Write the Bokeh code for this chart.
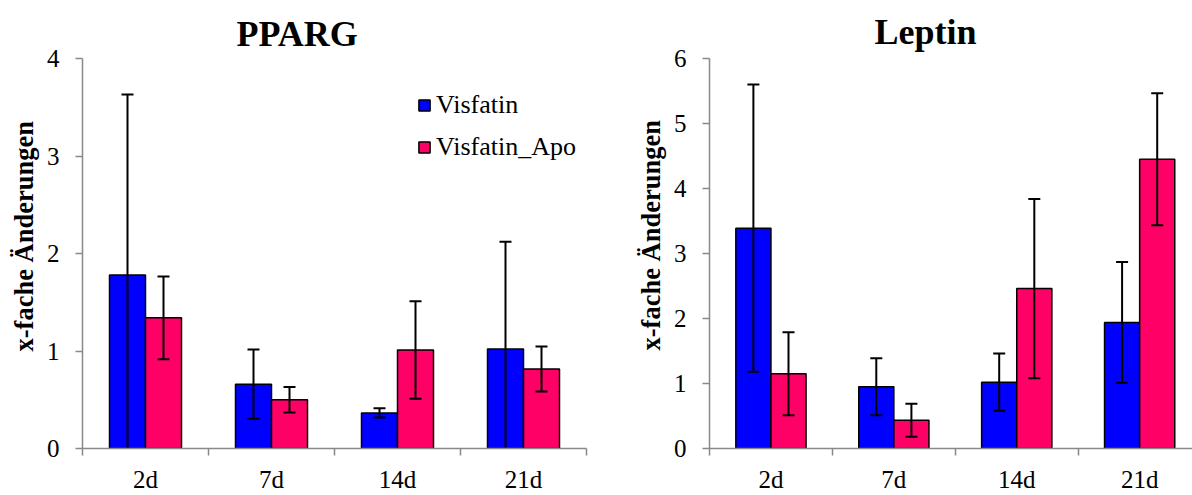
import numpy as np
from bokeh.plotting import figure
from bokeh.layouts import row
from bokeh.models import FixedTicker, Legend, LegendItem, Range1d, Title
from bokeh.embed import file_html
from bokeh.resources import INLINE

# ---- data ----
categories = ["2d", "7d", "14d", "21d"]
series_names = ["Visfatin", "Visfatin_Apo"]

pparg_visfatin = [1.78, 0.66, 0.365, 1.02]
pparg_visfatin_err = [1.85, 0.355, 0.048, 1.10]
pparg_apo = [1.34, 0.50, 1.01, 0.815]
pparg_apo_err = [0.425, 0.13, 0.50, 0.23]

leptin_visfatin = [3.39, 0.95, 1.02, 1.94]
leptin_visfatin_err = [2.21, 0.44, 0.44, 0.93]
leptin_apo = [1.15, 0.435, 2.46, 4.45]
leptin_apo_err = [0.64, 0.255, 1.38, 1.015]

pparg_yticks = [0, 1, 2, 3, 4]
leptin_yticks = [0, 1, 2, 3, 4, 5, 6]

y_label = "x-fache Änderungen"

BLUE = "#0000FF"
PINK = "#FF0066"
AXIS = "#898989"
FONT = "'Liberation Serif'"
HEIGHT = 495


def make_chart(title, vis, vis_err, apo, apo_err, yticks, width, mb_left, mb_right,
               mb_top, mb_bottom, x_end, title_off, title_standoff, ylab_off,
               xlab_standoff, with_legend):
    n = len(categories)
    p = figure(width=width, height=HEIGHT, output_backend="svg", toolbar_location=None,
               x_range=Range1d(0, x_end), y_range=Range1d(0, yticks[-1]),
               min_border_left=mb_left, min_border_right=mb_right,
               min_border_top=mb_top, min_border_bottom=mb_bottom)
    p.outline_line_color = None
    p.xgrid.visible = False
    p.ygrid.visible = False
    p.background_fill_color = "white"
    p.border_fill_color = "white"

    idx = np.arange(n)
    centers = idx + 0.5
    bw = 1 / 3.5
    xv = centers - bw / 2
    xa = centers + bw / 2
    vis = np.array(vis); vis_err = np.array(vis_err)
    apo = np.array(apo); apo_err = np.array(apo_err)

    r1 = p.vbar(x=xv, top=vis, bottom=0, width=bw, fill_color=BLUE,
                line_color="black", line_width=1.5)
    r2 = p.vbar(x=xa, top=apo, bottom=0, width=bw, fill_color=PINK,
                line_color="black", line_width=1.5)

    for xs, v, e in ((xv, vis, vis_err), (xa, apo, apo_err)):
        p.segment(x0=xs, y0=v - e, x1=xs, y1=v + e, line_color="black", line_width=2)
        p.dash(x=xs, y=v + e, size=12, line_color="black", line_width=2)
        p.dash(x=xs, y=v - e, size=12, line_color="black", line_width=2)

    # y axis
    ya = p.yaxis[0]
    ya.ticker = FixedTicker(ticks=yticks, minor_ticks=[])
    ya.axis_line_color = AXIS
    ya.axis_line_width = 1.5
    ya.major_tick_line_color = AXIS
    ya.major_tick_line_width = 1.5
    ya.major_tick_out = 7
    ya.major_tick_in = 0
    ya.minor_tick_line_color = None
    ya.major_label_text_font = FONT
    ya.major_label_text_font_size = "25px"
    ya.major_label_text_color = "black"
    ya.major_label_standoff = 16

    # x axis: ticks between categories, labels at centers
    xax = p.xaxis[0]
    bounds = [b for b in range(n + 1) if b <= x_end]
    xax.ticker = FixedTicker(ticks=list(centers), minor_ticks=bounds)
    xax.major_label_overrides = {float(c): lab for c, lab in zip(centers, categories)}
    xax.axis_line_color = AXIS
    xax.axis_line_width = 1.5
    xax.major_tick_line_color = None
    xax.major_tick_out = 0
    xax.major_tick_in = 0
    xax.minor_tick_line_color = AXIS
    xax.minor_tick_line_width = 1.5
    xax.minor_tick_out = 7
    xax.minor_tick_in = 0
    xax.major_label_text_font = FONT
    xax.major_label_text_font_size = "25px"
    xax.major_label_text_color = "black"
    xax.major_label_standoff = xlab_standoff

    # chart title
    p.title = Title(text=title, align="left", offset=title_off, standoff=title_standoff,
                    text_font=FONT, text_font_size="36px", text_font_style="bold",
                    text_color="black")
    # y axis title (rotated, on the left)
    p.add_layout(Title(text=y_label, align="left", offset=ylab_off, standoff=9,
                       text_font=FONT, text_font_size="26.5px", text_font_style="bold",
                       text_color="black"), "left")

    if with_legend:
        legend = Legend(items=[LegendItem(label=series_names[0], renderers=[r1]),
                               LegendItem(label=series_names[1], renderers=[r2])],
                        location=(335, 286), orientation="vertical",
                        glyph_width=14, glyph_height=14, label_standoff=5,
                        spacing=12, padding=0, margin=0,
                        border_line_color=None, background_fill_alpha=0,
                        label_text_font=FONT, label_text_font_size="26px",
                        label_text_color="black")
        p.add_layout(legend)
    return p


left = make_chart("PPARG", pparg_visfatin, pparg_visfatin_err, pparg_apo, pparg_apo_err,
                  pparg_yticks, 610, 82, 24, 58, 45, 4.0, 154, 10, 97, 10, True)
right = make_chart("Leptin", leptin_visfatin, leptin_visfatin_err, leptin_apo, leptin_apo_err,
                   leptin_yticks, 582, 99, 0, 58, 45, 483 / 122.9, 165, 14, 98, 10, False)

layout = row(left, right)
open("out.html", "w").write(file_html(layout, INLINE))
